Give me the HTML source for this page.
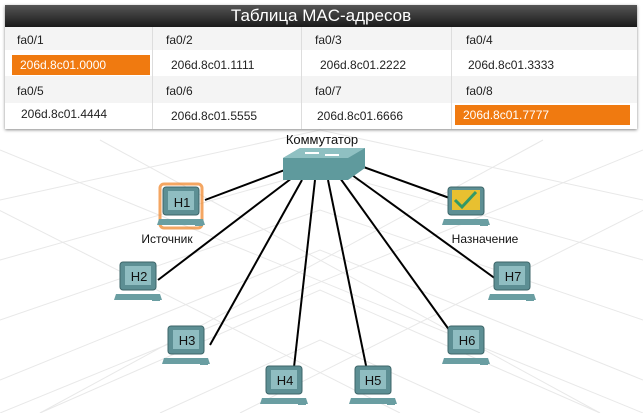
<!DOCTYPE html>
<html><head><meta charset="utf-8"><style>
body{margin:0;width:643px;height:413px;background:#fff;overflow:hidden;font-family:"Liberation Sans",sans-serif;position:relative}
.t{position:absolute;left:5px;top:5px;width:632px;height:124px;background:#f4f4f4;box-shadow:0 1px 3px #888}
.h{position:absolute;left:0;top:0;width:632px;height:22px;background:linear-gradient(#555,#1a1a1a);color:#fff;font-size:17px;text-align:center;line-height:22px}
.c{position:absolute;font-size:12px;color:#222}
.r{position:absolute;left:0;width:632px;background:#fff}
.o{position:absolute;background:#f07a10;color:#fff;font-size:12px;line-height:20px;padding-left:8px}
.v{position:absolute;top:22px;width:1px;height:102px;background:#ddd}
</style></head><body>
<svg width="643" height="413" style="position:absolute;left:0;top:0">
<g stroke="#e8e8e8" stroke-width="1" fill="none">
<path d="M0 200 L320 130 L643 200 M0 260 L320 170 L643 260 M0 320 L320 210 L643 320 M0 380 L320 250 L643 380 M40 413 L320 290 L600 413 M160 413 L320 340 L480 413"/>
<path d="M0 150 L643 413 M100 140 L600 413 M-100 160 L400 413 M643 150 L0 413 M543 140 L40 413 M743 160 L240 413"/>
</g>
<g stroke="#000" stroke-width="2">
<line x1="290" y1="168" x2="205" y2="200"/>
<line x1="292" y1="178" x2="158" y2="280"/>
<line x1="302" y1="180" x2="210" y2="345"/>
<line x1="315" y1="180" x2="292" y2="385"/>
<line x1="328" y1="180" x2="370" y2="385"/>
<line x1="340" y1="178" x2="460" y2="345"/>
<line x1="352" y1="175" x2="500" y2="282"/>
<line x1="358" y1="165" x2="455" y2="200"/>
</g>
<defs><g id="pc"><rect x="0" y="0" width="36" height="28" rx="3" fill="#5d8f94" stroke="#3d6669"/><rect x="5" y="4" width="26" height="19" fill="#8fbdc1"/><path d="M-4 32 L40 32 L42 38 L-6 38Z" fill="#6a9ea2"/><rect x="32" y="35" width="8" height="4" fill="#6a9ea2"/></g></defs>
<path d="M283 158 L300 148 L365 148 L365 168 L348 180 L283 180Z" fill="#5f9a9d"/>
<path d="M283 158 L300 148 L365 148 L348 158Z" fill="#8fc0c2"/>
<g fill="#fff"><rect x="305" y="152" width="14" height="2"/><rect x="325" y="154" width="14" height="2"/></g>
<rect x="160" y="184" width="42" height="44" rx="4" fill="none" stroke="#f08020" stroke-width="3" opacity=".7"/>
<use href="#pc" x="163" y="187"/>
<use href="#pc" x="120" y="262"/>
<use href="#pc" x="168" y="326"/>
<use href="#pc" x="266" y="366"/>
<use href="#pc" x="355" y="366"/>
<use href="#pc" x="448" y="326"/>
<use href="#pc" x="494" y="262"/>
<use href="#pc" x="448" y="187"/>
<rect x="452" y="190" width="28" height="20" fill="#e8c030"/><path d="M455 200 L462 207 L476 192" stroke="#396" stroke-width="3" fill="none"/>
<g font-size="13" fill="#111" font-family="Liberation Sans" text-anchor="middle">
<text x="182" y="207">H1</text><text x="139" y="281">H2</text><text x="187" y="345">H3</text><text x="285" y="385">H4</text><text x="373" y="385">H5</text><text x="467" y="345">H6</text><text x="513" y="281">H7</text>
<text x="322" y="144" font-size="13">Коммутатор</text>
<text x="167" y="243" font-size="12">Источник</text>
<text x="485" y="243" font-size="12">Назначение</text>
</g>
</svg>
<div class="t">
<div class="h">Таблица MAC-адресов</div>
<div class="r" style="top:45px;height:26px"></div>
<div class="r" style="top:98px;height:26px"></div>
<div class="v" style="left:147px"></div><div class="v" style="left:296px"></div><div class="v" style="left:446px"></div>
<div class="c" style="left:12px;top:28px">fa0/1</div><div class="c" style="left:161px;top:28px">fa0/2</div><div class="c" style="left:310px;top:28px">fa0/3</div><div class="c" style="left:461px;top:28px">fa0/4</div>
<div class="o" style="left:7px;top:50px;width:130px">206d.8c01.0000</div>
<div class="c" style="left:166px;top:53px">206d.8c01.1111</div><div class="c" style="left:315px;top:53px">206d.8c01.2222</div><div class="c" style="left:463px;top:53px">206d.8c01.3333</div>
<div class="c" style="left:12px;top:79px">fa0/5</div><div class="c" style="left:161px;top:79px">fa0/6</div><div class="c" style="left:310px;top:79px">fa0/7</div><div class="c" style="left:461px;top:79px">fa0/8</div>
<div class="c" style="left:16px;top:102px">206d.8c01.4444</div><div class="c" style="left:166px;top:104px">206d.8c01.5555</div><div class="c" style="left:312px;top:104px">206d.8c01.6666</div>
<div class="o" style="left:450px;top:100px;width:167px">206d.8c01.7777</div>
</div>
</body></html>
